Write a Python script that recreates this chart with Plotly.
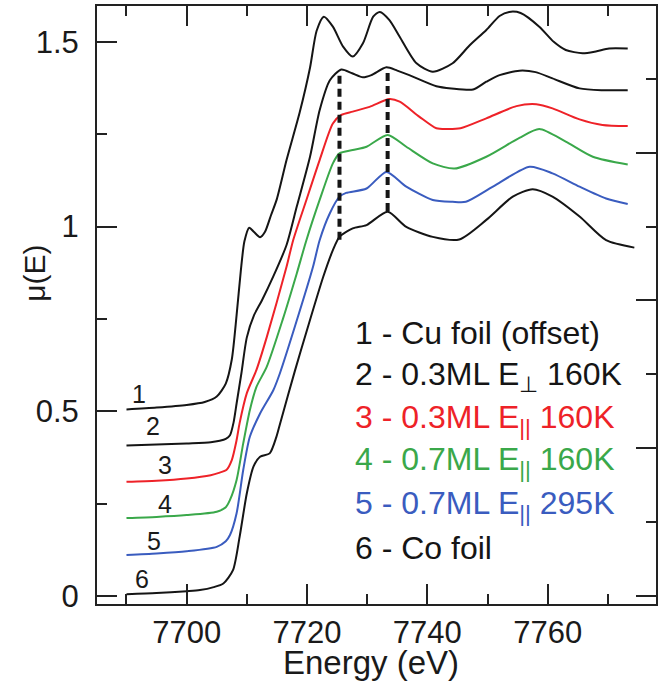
import plotly.graph_objects as go

# ---------------- data ----------------
E1 = [7690, 7695, 7700, 7703, 7705, 7706.5, 7707.5, 7708.3, 7709, 7709.6, 7710.4, 7711.2, 7712.2, 7713,
      7714, 7715, 7716.6, 7718.8, 7720.5, 7721.6, 7722.8, 7724.3, 7726, 7727.6, 7729.3, 7731, 7732.1,
      7733.7, 7735.4, 7738.2, 7740.9, 7744.2, 7747, 7749.8, 7752, 7753.6, 7755.5, 7758.6, 7761, 7763,
      7765.8, 7768, 7770.2, 7773.3]
mu1 = [0.505, 0.510, 0.517, 0.525, 0.540, 0.575, 0.640, 0.760, 0.880, 0.960, 0.997, 0.985, 0.971, 0.985,
       1.030, 1.075, 1.180, 1.310, 1.430, 1.530, 1.568, 1.541, 1.487, 1.460, 1.496, 1.568, 1.581,
       1.559, 1.514, 1.442, 1.419, 1.442, 1.490, 1.532, 1.570, 1.581, 1.578, 1.541, 1.500, 1.478,
       1.469, 1.474, 1.482, 1.482]

E2 = [7690, 7695, 7700, 7704, 7705.5, 7706.5, 7707.2, 7707.8, 7708.3, 7709.1, 7710, 7711.2, 7712.5, 7714.4,
      7716.6, 7718.3, 7720.5, 7722.1, 7723.8, 7725.7, 7727.5, 7729.3, 7730.7, 7733.2, 7735, 7737, 7741.5,
      7744, 7747.6, 7749.8, 7752, 7755.3, 7758, 7760.8, 7765.3, 7769, 7773.3]
mu2 = [0.407, 0.410, 0.413, 0.416, 0.420, 0.425, 0.435, 0.470, 0.521, 0.603, 0.700, 0.760, 0.800, 0.865,
       0.950, 1.054, 1.189, 1.315, 1.396, 1.425, 1.415, 1.404, 1.410, 1.431, 1.422, 1.410, 1.380,
       1.374, 1.371, 1.392, 1.410, 1.422, 1.418, 1.401, 1.374, 1.369, 1.369]

E3 = [7690, 7695, 7700, 7704, 7705.5, 7706.6, 7707.5, 7708.3, 7708.8, 7710, 7711.6, 7713.3, 7716.6, 7717.7,
      7719.9, 7722.1, 7724.3, 7725.7, 7727.6, 7730.4, 7733.7, 7735.4, 7738.7, 7741.5, 7743.5, 7745.5,
      7749.8, 7754.8, 7758.1, 7760.8, 7765.3, 7769.1, 7773.3]
mu3 = [0.309, 0.312, 0.318, 0.327, 0.334, 0.341, 0.368, 0.422, 0.468, 0.549, 0.612, 0.700, 0.891, 0.963,
       1.072, 1.180, 1.279, 1.302, 1.311, 1.324, 1.345, 1.338, 1.297, 1.266, 1.264, 1.266,
       1.293, 1.326, 1.331, 1.320, 1.290, 1.275, 1.272]

E4 = [7690, 7695, 7700, 7705, 7706.5, 7707.2, 7708.3, 7709.4, 7710.5, 7711.6, 7713.3, 7716, 7718.3, 7719.9,
      7722.1, 7724.3, 7725.4, 7727.6, 7729.9, 7733.4, 7736.5, 7740.9, 7744.5, 7749.8, 7755.3, 7758.6,
      7763, 7767.5, 7773.3]
mu4 = [0.211, 0.214, 0.219, 0.228, 0.240, 0.260, 0.314, 0.413, 0.503, 0.566, 0.620, 0.750, 0.873, 0.963,
       1.072, 1.171, 1.198, 1.207, 1.216, 1.248, 1.216, 1.171, 1.157, 1.189, 1.240, 1.264,
       1.230, 1.189, 1.168]

E5 = [7690, 7695, 7700, 7705, 7706.5, 7707.2, 7708.3, 7709.4, 7710.5, 7712.2, 7714.4, 7715.5, 7718, 7721,
      7722.1, 7723.8, 7725.4, 7726.5, 7729.9, 7733.2, 7736.5, 7740.9, 7744.2, 7746.4, 7750.9, 7757,
      7760.8, 7765.3, 7769.7, 7773.3]
mu5 = [0.111, 0.115, 0.121, 0.133, 0.148, 0.165, 0.224, 0.341, 0.431, 0.494, 0.557, 0.603, 0.730, 0.891,
       0.963, 1.036, 1.081, 1.091, 1.103, 1.148, 1.108, 1.072, 1.067, 1.067, 1.108, 1.162,
       1.144, 1.108, 1.076, 1.061]

E6 = [7690, 7695, 7700, 7702.2, 7704.5, 7706.1, 7707.7, 7708.8, 7710, 7711.1, 7712.2, 7713.8, 7714.9, 7715.5,
      7718, 7720, 7722.7, 7724.3, 7725.4, 7727.6, 7729.9, 7733.4, 7736.5, 7740.9, 7745.3, 7749.8,
      7754.2, 7757.5, 7760.8, 7765.3, 7769.7, 7774.4]
mu6 = [0.005, 0.008, 0.013, 0.016, 0.024, 0.034, 0.070, 0.160, 0.278, 0.350, 0.377, 0.386, 0.430, 0.465,
       0.610, 0.720, 0.864, 0.936, 0.972, 0.995, 1.004, 1.040, 0.999, 0.972, 0.965, 1.018,
       1.081, 1.101, 1.081, 1.027, 0.963, 0.943]

# dashed marker lines (energy, lower and upper mu)
dash_E = [7725.4, 7733.4]
dash_lo = [0.964, 1.042]
dash_hi = [1.417, 1.423]

# tick values
x_major = [7700, 7720, 7740, 7760]
x_minor = [7690, 7710, 7730, 7750, 7770]
y_major = [0, 0.5, 1, 1.5]
y_minor = [0.25, 0.75, 1.25]
yr_major = [0, 0.4, 0.8, 1.2]
yr_minor = [0.2, 0.6, 1.0, 1.4]

# curve number labels
num_text = ["1", "2", "3", "4", "5", "6"]
num_E = [7692.1, 7694.4, 7696.4, 7696.4, 7694.6, 7692.5]
num_mu = [0.548, 0.460, 0.354, 0.250, 0.150, 0.047]

legend_text = ["1 - Cu foil (offset)",
               "2 - 0.3ML E<sub>\u22a5</sub> 160K",
               "3 - 0.3ML E<sub>||</sub> 160K",
               "4 - 0.7ML E<sub>||</sub> 160K",
               "5 - 0.7ML E<sub>||</sub> 295K",
               "6 - Co foil"]

BLACK = "#151515"
RED = "#ee2228"
GREEN = "#3aa84a"
BLUE = "#3a5cbf"
colors = [BLACK, BLACK, RED, GREEN, BLUE, BLACK]

series_E = [E1, E2, E3, E4, E5, E6]
series_mu = [mu1, mu2, mu3, mu4, mu5, mu6]

FONT = "Liberation Sans, Arial, sans-serif"
AX = "#222222"
XR = [7685.1, 7778.0]
YR = [-0.0217, 1.597]

fig = go.Figure()
for e, m, c in zip(series_E, series_mu, colors):
    fig.add_trace(go.Scatter(x=e, y=m, mode="lines",
                             line=dict(color=c, width=2, shape="spline", smoothing=0.7),
                             hoverinfo="skip", showlegend=False))

# dashed lines on the top/right axis pair (identical ranges)
for e, lo, hi in zip(dash_E, dash_lo, dash_hi):
    fig.add_trace(go.Scatter(x=[e, e], y=[lo, hi], mode="lines", xaxis="x2", yaxis="y2",
                             line=dict(color=BLACK, width=4, dash="8px,5px"),
                             hoverinfo="skip", showlegend=False))

# invisible anchors for the minor-tick axis pairs
for xa, ya in (("x3", "y3"), ("x4", "y4")):
    fig.add_trace(go.Scatter(x=[dash_E[0]], y=[dash_lo[0]], xaxis=xa, yaxis=ya, mode="markers",
                             marker=dict(opacity=0), hoverinfo="skip", showlegend=False))


def tick_axis(rng, vals, length, side, anchor, overlay=None, labels=False, line=False, **kw):
    d = dict(range=rng, side=side, anchor=anchor, showgrid=False, zeroline=False, automargin=False,
             ticks="inside", ticklen=length, tickwidth=2, tickcolor=AX,
             tickmode="array", tickvals=vals, showticklabels=labels,
             showline=line, linecolor=AX, linewidth=2)
    if overlay:
        d["overlaying"] = overlay
    d.update(kw)
    return d


fig.update_layout(
    width=666, height=690,
    margin=dict(l=97, r=10, t=6, b=86),
    paper_bgcolor="white", plot_bgcolor="white", showlegend=False,
    font=dict(family=FONT, color="#1a1a1a"),
    xaxis=tick_axis(XR, x_major, 20, "bottom", "y", labels=True, line=True,
                    ticktext=[str(v) for v in x_major],
                    tickfont=dict(size=31, family=FONT, color="#1a1a1a")),
    xaxis3=tick_axis(XR, x_minor, 10, "bottom", "y", overlay="x"),
    xaxis2=tick_axis(XR, x_major, 20, "top", "y", overlay="x", line=True),
    xaxis4=tick_axis(XR, x_minor, 10, "top", "y", overlay="x"),
    yaxis=tick_axis(YR, y_major, 20, "left", "x", labels=True, line=True,
                    ticktext=["0", "0.5", "1", "1.5"],
                    tickfont=dict(size=31, family=FONT, color="#1a1a1a"),
                    ticklabelstandoff=10),
    yaxis3=tick_axis(YR, y_minor, 10, "left", "x", overlay="y"),
    yaxis2=tick_axis(YR, yr_major, 20, "right", "x", overlay="y", line=True),
    yaxis4=tick_axis(YR, yr_minor, 10, "right", "x", overlay="y"),
)

# axis titles
fig.add_annotation(text="Energy (eV)", xref="paper", yref="paper", x=0.49, y=-0.098,
                   xanchor="center", yanchor="middle", showarrow=False,
                   font=dict(size=33, family=FONT, color="#1a1a1a"))
fig.add_annotation(text="\u03bc(E)", xref="paper", yref="paper", x=-0.112, y=0.553,
                   xanchor="center", yanchor="middle", textangle=-90, showarrow=False,
                   font=dict(size=30, family=FONT, color="#1a1a1a"))

# curve numbers
for t, e, m in zip(num_text, num_E, num_mu):
    fig.add_annotation(text=t, x=e, y=m, xref="x", yref="y", showarrow=False,
                       xanchor="center", yanchor="middle",
                       font=dict(size=25, family=FONT, color="#1a1a1a"))

# legend text block
leg_y = [333, 376, 419, 462, 505, 548]
for t, py, c in zip(legend_text, leg_y, colors):
    fig.add_annotation(text=t, x=(353 - 97) / 559, y=(604 - py) / 598, xref="paper", yref="paper",
                       showarrow=False, xanchor="left", yanchor="middle",
                       font=dict(size=32, family=FONT, color=c))

fig.write_html("out.html")
